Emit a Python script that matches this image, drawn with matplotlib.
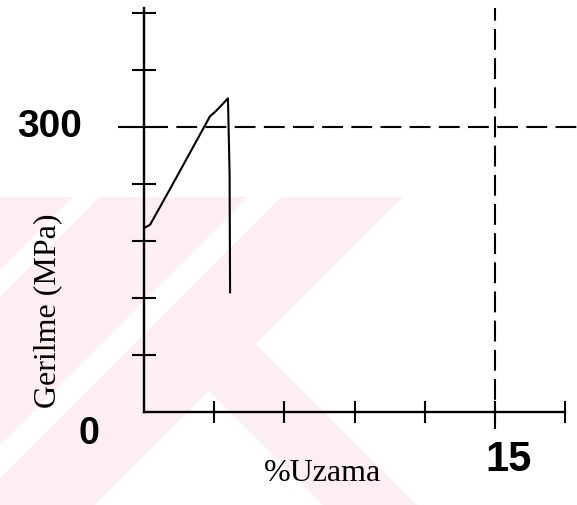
import matplotlib
matplotlib.use("Agg")
import matplotlib.pyplot as plt
from matplotlib.patches import Polygon

# Stress-strain curve
strain = [0.04, 0.26, 1.10, 2.82, 3.05, 3.25, 3.59, 3.66, 3.68]   # %Uzama
stress = [194, 197, 234, 311, 316, 321, 330, 250, 126]           # MPa

x_ticks = [3, 6, 9, 12, 15, 18]
y_ticks = [60, 120, 180, 240, 300, 360, 420]
ref_strain = 15     # vertical dashed reference
ref_stress = 300    # horizontal dashed reference

fig = plt.figure(figsize=(5.77, 5.05), dpi=100)

# Background layer for the pink watermark stripes (pixel coordinates)
bg = fig.add_axes([0, 0, 1, 1], zorder=0)
bg.set_xlim(0, 577)
bg.set_ylim(505, 0)
bg.axis('off')
pink = '#fdeef1'
stripes = [
    [(0, 197), (73, 197), (0, 270)],
    [(100, 197), (248, 197), (0, 445), (0, 297)],
    [(281, 197), (403, 197), (95, 505), (0, 505), (0, 478)],
    [(256, 344), (417, 505), (323, 505), (209, 391)],
]
for s in stripes:
    bg.add_patch(Polygon(s, closed=True, facecolor=pink, edgecolor='none'))

# Main chart axes
ax = fig.add_axes([144 / 577, 93 / 505, 421 / 577, 404 / 505], zorder=1)
ax.set_facecolor('none')
ax.set_xlim(0, 18)
ax.set_ylim(0, 425)

for side in ['top', 'right']:
    ax.spines[side].set_visible(False)
for side in ['left', 'bottom']:
    ax.spines[side].set_linewidth(1.7)

ax.set_xticks(x_ticks)
ax.set_yticks(y_ticks)
ax.set_xticklabels([''] * len(x_ticks))
ax.set_yticklabels([''] * len(y_ticks))
ax.tick_params(axis='both', direction='inout', width=1.5, color='black')
ax.tick_params(axis='y', length=17)
ax.tick_params(axis='x', length=16)

# Curve
ax.plot(strain, stress, color='black', linewidth=1.5, clip_on=False)

# Dashed reference lines
ax.plot([-1.1, 18.6], [ref_stress, ref_stress], color='black', linewidth=1.5,
        dashes=(10, 4), clip_on=False)
ax.plot([ref_strain, ref_strain], [-18, 425], color='black', linewidth=1.5,
        dashes=(10, 4), clip_on=False)

# Value labels
bold = dict(family='Liberation Sans', fontweight='bold', color='black')
ax.text(-2.65, 300, '300', ha='right', va='center', fontsize=28, **bold)
ax.text(-2.35, -23, '0', ha='center', va='center', fontsize=27, **bold)
ax.text(15.6, -50, '15', ha='center', va='center', fontsize=30, **bold)

# Axis titles
ax.set_ylabel('Gerilme (MPa)', family='Liberation Serif', fontsize=23)
ax.yaxis.set_label_coords(-0.228, 0.25)
ax.yaxis.label.set_va('center')
ax.set_xlabel('%Uzama', family='Liberation Serif', fontsize=23)
ax.xaxis.set_label_coords(0.423, -0.153)
ax.xaxis.label.set_va('center')

plt.savefig('out.png', dpi=100)
